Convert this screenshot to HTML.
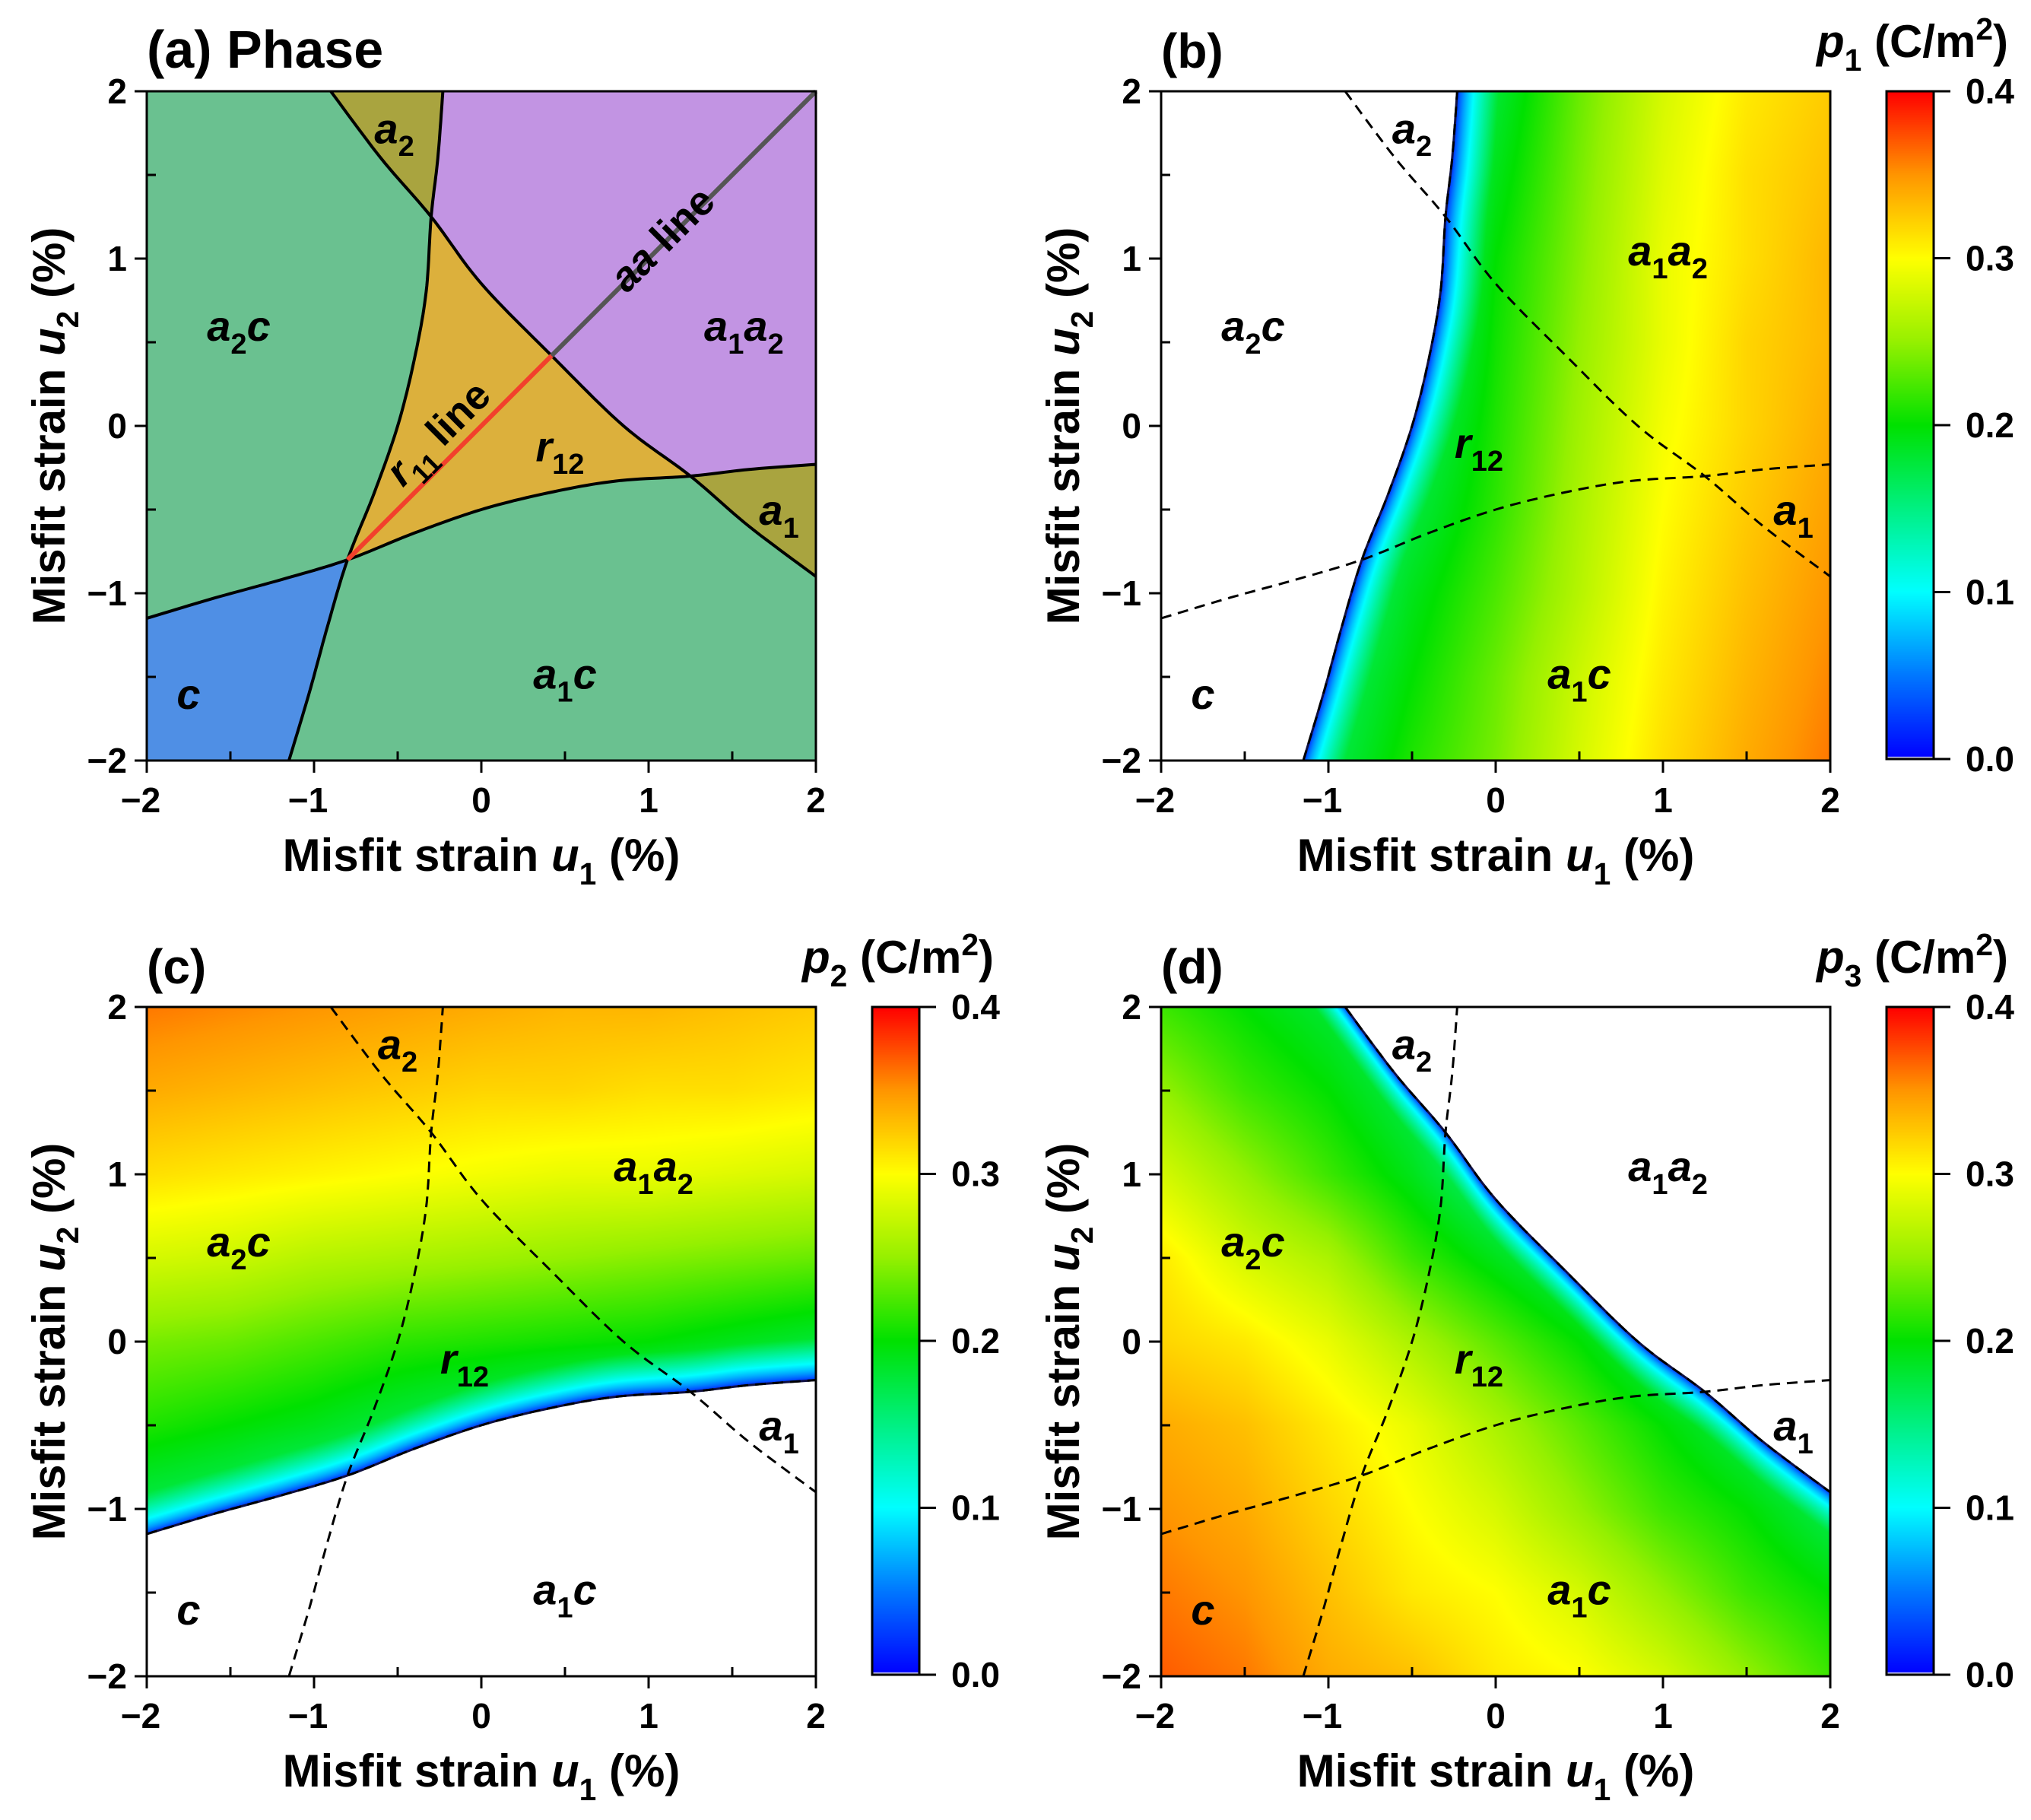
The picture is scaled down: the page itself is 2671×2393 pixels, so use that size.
<!DOCTYPE html>
<html><head><meta charset="utf-8">
<style>
html,body{margin:0;padding:0;background:#fff;}
#root{position:relative;width:2671px;height:2393px;overflow:hidden;background:#fff;}
canvas{position:absolute;}
svg{position:absolute;left:0;top:0;}
text{font-family:"Liberation Sans",Arial,sans-serif;font-weight:bold;fill:#000;}
</style></head>
<body>
<div id="root">
<canvas id="hb" width="880" height="880" style="left:1527px;top:120px;width:880px;height:880px"></canvas>
<canvas id="hc" width="880" height="880" style="left:193px;top:1324px;width:880px;height:880px"></canvas>
<canvas id="hd" width="880" height="880" style="left:1527px;top:1324px;width:880px;height:880px"></canvas>
<canvas id="cb" width="62" height="878" style="left:2481px;top:120px;width:62px;height:878px"></canvas>
<canvas id="cc" width="62" height="878" style="left:1147px;top:1324px;width:62px;height:878px"></canvas>
<canvas id="cd" width="62" height="878" style="left:2481px;top:1324px;width:62px;height:878px"></canvas>
<svg id="sv" width="2671" height="2393" xmlns="http://www.w3.org/2000/svg"></svg>
</div>
<script>
// ---- phase boundary data (u1, u2 in %) ----
const curve1 = [[-2,-1.15],[-1.6,-1.03],[-1.2,-0.92],[-0.8,-0.8],[-0.4,-0.64],[0,-0.5],[0.4,-0.4],[0.8,-0.33],[1.25,-0.3],[1.6,-0.26],[2,-0.23]];
const curve2 = [[-1.15,-2],[-1.03,-1.6],[-0.92,-1.2],[-0.8,-0.8],[-0.64,-0.4],[-0.5,0],[-0.4,0.4],[-0.33,0.8],[-0.3,1.25],[-0.26,1.6],[-0.23,2]];
const curve3 = [[-0.9,2],[-0.6,1.6],[-0.3,1.25],[0,0.85],[0.42,0.42],[0.85,0.0],[1.25,-0.3],[1.6,-0.6],[2,-0.9]];
const gridU1 = [-2,-1.5,-1,-0.5,0,0.5,1,1.5,2];
const gridU2 = [2,1.5,1,0.5,0,-0.5,-1,-1.5,-2];
const p1Values = [
[0.1,0.1,0.1,0.1,0.18,0.235,0.28,0.31,0.325],
[0.1,0.1,0.1,0.1,0.19,0.24,0.285,0.315,0.33],
[0.1,0.1,0.1,0.12,0.2,0.245,0.29,0.315,0.335],
[0.1,0.1,0.1,0.14,0.205,0.25,0.29,0.32,0.335],
[0.1,0.1,0.1,0.16,0.21,0.255,0.295,0.32,0.34],
[0.1,0.1,0.12,0.175,0.215,0.26,0.3,0.325,0.345],
[0.1,0.1,0.14,0.19,0.225,0.265,0.305,0.33,0.35],
[0.1,0.12,0.16,0.2,0.235,0.275,0.31,0.335,0.355],
[0.1,0.13,0.17,0.21,0.24,0.28,0.315,0.34,0.36]];
const p2Values = [
[0.36,0.355,0.35,0.345,0.34,0.335,0.335,0.33,0.325],
[0.34,0.335,0.33,0.325,0.32,0.32,0.315,0.315,0.31],
[0.315,0.31,0.305,0.3,0.295,0.29,0.29,0.285,0.28],
[0.28,0.275,0.265,0.26,0.255,0.25,0.245,0.24,0.235],
[0.24,0.235,0.225,0.215,0.21,0.205,0.2,0.19,0.18],
[0.21,0.2,0.19,0.175,0.16,0.14,0.12,0.1,0.1],
[0.17,0.16,0.14,0.12,0.1,0.1,0.1,0.1,0.1],
[0.13,0.12,0.1,0.1,0.1,0.1,0.1,0.1,0.1],
[0.1,0.1,0.1,0.1,0.1,0.1,0.1,0.1,0.1]];
const p3Values = [
[0.22,0.2,0.18,0.15,0.1,0.1,0.1,0.1,0.1],
[0.25,0.22,0.2,0.17,0.12,0.1,0.1,0.1,0.1],
[0.28,0.25,0.22,0.19,0.15,0.1,0.1,0.1,0.1],
[0.31,0.28,0.26,0.22,0.19,0.16,0.1,0.1,0.1],
[0.32,0.31,0.29,0.26,0.23,0.2,0.16,0.1,0.1],
[0.34,0.33,0.31,0.29,0.26,0.23,0.2,0.17,0.12],
[0.35,0.34,0.32,0.3,0.28,0.25,0.22,0.2,0.17],
[0.36,0.35,0.33,0.31,0.3,0.28,0.25,0.22,0.2],
[0.37,0.36,0.34,0.33,0.31,0.3,0.28,0.25,0.22]];
const axisTicks = [-2,-1,0,1,2];
const axisTickLabels = ["\u22122","\u22121","0","1","2"];
const cbTicks = [0,0.1,0.2,0.3,0.4];
const cbTickLabels = ["0.0","0.1","0.2","0.3","0.4"];

const NS = "http://www.w3.org/2000/svg";
const sv = document.getElementById('sv');
const S = 880;
const NSUB = 12;
const panels = {a:[193,120], b:[1527,120], c:[193,1324], d:[1527,1324]};
function sx(p,u){return panels[p][0] + (u+2)/4*S;}
function sy(p,v){return panels[p][1] + (2-v)/4*S;}
function el(tag, attrs, parent){
  const e = document.createElementNS(NS, tag);
  for (const k in attrs) e.setAttribute(k, attrs[k]);
  (parent||sv).appendChild(e);
  return e;
}
function densify(c){
  const out=[];
  for(let i=0;i<c.length-1;i++){
    const p0=c[Math.max(0,i-1)],p1=c[i],p2=c[i+1],p3=c[Math.min(c.length-1,i+2)];
    for(let s=0;s<NSUB;s++){
      const t=s/NSUB,t2=t*t,t3=t2*t;
      out.push([0,1].map(k=>0.5*((2*p1[k])+(-p0[k]+p2[k])*t+(2*p0[k]-5*p1[k]+4*p2[k]-p3[k])*t2+(-p0[k]+3*p1[k]-3*p2[k]+p3[k])*t3)));
    }
  }
  out.push(c[c.length-1].slice());
  return out;
}
const D1=densify(curve1), D2=densify(curve2), D3=densify(curve3);
function seg(c,i,j){ i*=NSUB; j*=NSUB; if(i<=j) return c.slice(i,j+1); return c.slice(j,i+1).reverse(); }
function pathD(p, pts, close){
  return pts.map((q,k)=>(k?'L':'M')+sx(p,q[0]).toFixed(1)+' '+sy(p,q[1]).toFixed(1)).join(' ')+(close?' Z':'');
}
const cmStops = [[0,[0,0,255]],[0.05,[0,120,255]],[0.1,[0,255,255]],[0.15,[0,240,130]],[0.2,[0,225,0]],[0.25,[150,240,0]],[0.3,[255,255,0]],[0.35,[255,150,0]],[0.4,[255,0,0]]];
function cmap(v){
  if(v<=0) return cmStops[0][1];
  if(v>=0.4) return cmStops[cmStops.length-1][1];
  for(let i=0;i<cmStops.length-1;i++){
    const a=cmStops[i],b=cmStops[i+1];
    if(v>=a[0]&&v<=b[0]){const t=(v-a[0])/(b[0]-a[0]);return [0,1,2].map(k=>a[1][k]+(b[1][k]-a[1][k])*t);}
  }
}
function interpX(c,y){
  const pts = c.slice().sort((a,b)=>a[1]-b[1]);
  for(let i=0;i<pts.length-1;i++){ if(y<=pts[i+1][1]){const t=(y-pts[i][1])/(pts[i+1][1]-pts[i][1]);return pts[i][0]+t*(pts[i+1][0]-pts[i][0]);} }
  return pts[pts.length-1][0];
}
function interpY(c,x){
  const pts = c.slice().sort((a,b)=>a[0]-b[0]);
  for(let i=0;i<pts.length-1;i++){ if(x<=pts[i+1][0]){const t=(x-pts[i][0])/(pts[i+1][0]-pts[i][0]);return pts[i][1]+t*(pts[i+1][1]-pts[i][1]);} }
  return pts[pts.length-1][1];
}
function bilin(g,u1,u2){
  let fj=(u1-gridU1[0])/0.5, fi=(gridU2[0]-u2)/0.5;
  fj=Math.max(0,Math.min(7.9999,fj)); fi=Math.max(0,Math.min(7.9999,fi));
  const j=Math.floor(fj), i=Math.floor(fi), tj=fj-j, ti=fi-i;
  return g[i][j]*(1-tj)*(1-ti)+g[i][j+1]*tj*(1-ti)+g[i+1][j]*(1-tj)*ti+g[i+1][j+1]*tj*ti;
}
function heat(id, grid, distFn, band){
  const cv=document.getElementById(id), ctx=cv.getContext('2d');
  const img=ctx.createImageData(S,S);
  for(let py=0;py<S;py++){
    const u2=2-(py+0.5)/S*4;
    for(let px=0;px<S;px++){
      const u1=-2+(px+0.5)/S*4;
      const d=distFn(u1,u2);
      let c=[255,255,255];
      if(d>0){ const f=Math.pow(Math.min(1,d/band),0.5); c=cmap(bilin(grid,u1,u2)*f); }
      const o=(py*S+px)*4; img.data[o]=c[0];img.data[o+1]=c[1];img.data[o+2]=c[2];img.data[o+3]=255;
    }
  }
  ctx.putImageData(img,0,0);
}
heat('hb', p1Values, (u1,u2)=>u1-interpX(D2,u2), 0.25);
heat('hc', p2Values, (u1,u2)=>u2-interpY(D1,u1), 0.25);
heat('hd', p3Values, (u1,u2)=>interpY(D3,u1)-u2, 0.25);
['cb','cc','cd'].forEach(id=>{
  const cv=document.getElementById(id), ctx=cv.getContext('2d');
  for(let y=0;y<878;y++){const c=cmap(0.4*(1-y/877));ctx.fillStyle='rgb('+c.map(Math.round).join(',')+')';ctx.fillRect(0,y,62,1);}
  ctx.fillStyle='#d8d8f0';ctx.fillRect(0,875,62,3);
});

const ga = el('g',{});


el('rect',{x:193,y:120,width:S,height:S,fill:'#6ac190'},ga);
const regs = [
 ['region-c','#4f8fe5',[[-2,-2]].concat(seg(D2,0,3),seg(D1,3,0))],
 ['region-r12','#dcb03c',seg(D1,3,8).concat(seg(D3,6,2),seg(D2,8,3))],
 ['region-a1a2','#c294e3',seg(D2,10,8).concat(seg(D3,2,6),seg(D1,8,10),[[2,2]])],
 ['region-a1','#a9a43f',seg(D1,8,10).concat(seg(D3,8,6))],
 ['region-a2','#a9a43f',seg(D3,0,2).concat(seg(D2,8,10))]
];
regs.forEach(r=>{
  const e=el('path',{d:pathD('a',r[2],true),fill:r[1]},ga);
  
  
});
[D1,D2,D3].forEach((c,k)=>{
  const e=el('path',{d:pathD('a',c,false),fill:'none',stroke:'#000','stroke-width':4},ga);
  
  
});
let e0=el('line',{x1:sx('a',0.42),y1:sy('a',0.42),x2:sx('a',2),y2:sy('a',2),stroke:'#555','stroke-width':6});


e0=el('line',{x1:sx('a',-0.8),y1:sy('a',-0.8),x2:sx('a',0.42),y2:sy('a',0.42),stroke:'#f2402c','stroke-width':6});



['b','c','d'].forEach(p=>{
  const solid = p==='b'?D2:(p==='c'?D1:D3);
  let s=el('path',{d:pathD(p,solid,false),fill:'none',stroke:'#101040','stroke-width':3});
  
  
  [D1,D2,D3].forEach((c,k)=>{
    const e=el('path',{d:pathD(p,c,false),fill:'none',stroke:'#000','stroke-width':3,'stroke-dasharray':'14 9'});
    
    
  });
});

function rich(x,y,parts,size,opts){
  opts=opts||{};
  const t=el('text',{x:x,y:y,'font-size':size,'text-anchor':opts.anchor||'middle'});
  if(opts.fill) t.setAttribute('fill',opts.fill);
  if(opts.rot) t.setAttribute('transform','rotate('+opts.rot+' '+x+' '+y+')');
  if(opts.italic) t.setAttribute('font-style','italic');
  let shift=0;
  parts.forEach(pt=>{
    const ts=document.createElementNS(NS,'tspan');
    let want=0;
    if(pt[1]==='sub'){want=size*0.3;ts.setAttribute('font-size',size*0.68);ts.setAttribute('font-style','normal');}
    else if(pt[1]==='sup'){want=-size*0.38;ts.setAttribute('font-size',size*0.68);}
    if(pt[1]==='i') ts.setAttribute('font-style','italic');
    if(want!==shift){ts.setAttribute('dy',want-shift);shift=want;}
    ts.textContent=pt[0];
    t.appendChild(ts);
  });
  return t;
}

Object.keys(panels).forEach(p=>{
  const x0=panels[p][0], y0=panels[p][1];
  const g=el('g',{});
  
  
  el('rect',{x:x0,y:y0,width:S,height:S,fill:'none',stroke:'#000','stroke-width':3},g);
  axisTicks.forEach((v,k)=>{
    el('line',{x1:sx(p,v),y1:y0+S,x2:sx(p,v),y2:y0+S+16,stroke:'#000','stroke-width':3},g);
    el('line',{x1:x0-16,y1:sy(p,v),x2:x0,y2:sy(p,v),stroke:'#000','stroke-width':3},g);
    const tx=rich(sx(p,v)-(v<0?8:0),y0+S+68,[[axisTickLabels[k],'']],46);
    
    
    const ty=rich(x0-26,sy(p,v)+16,[[axisTickLabels[k],'']],46,{anchor:'end'});
    
    
  });
  [-1.5,-0.5,0.5,1.5].forEach(v=>{
    el('line',{x1:sx(p,v),y1:y0+S,x2:sx(p,v),y2:y0+S-12,stroke:'#000','stroke-width':3},g);
    el('line',{x1:x0,y1:sy(p,v),x2:x0+12,y2:sy(p,v),stroke:'#000','stroke-width':3},g);
  });
  const xt=rich(x0+S/2,y0+S+145,[['Misfit strain ',''],['u','i'],['1','sub'],[' (%)','']],60);
  
  
  const yt=rich(x0-108,y0+S/2,[['Misfit strain ',''],['u','i'],['2','sub'],[' (%)','']],60,{rot:-90});
  
  
});
const cbs={b:[2481,120,'1'],c:[1147,1324,'2'],d:[2481,1324,'3']};
Object.keys(cbs).forEach(p=>{
  const x=cbs[p][0], y=cbs[p][1];
  el('rect',{x:x,y:y,width:62,height:878,fill:'none',stroke:'#000','stroke-width':3});
  cbTicks.forEach((v,k)=>{
    const yy=y+878-v/0.4*878;
    el('line',{x1:x+62,y1:yy,x2:x+84,y2:yy,stroke:'#000','stroke-width':3});
    const t=rich(x+104,yy+16,[[cbTickLabels[k],'']],46,{anchor:'start'});
    
    
  });
  const t=rich(x+160,y-45,[['p','i'],[cbs[p][2],'sub'],[' (C/m',''],['2','sup'],[')','']],60,{anchor:'end'});
  
  
});
let pt=rich(193,89,[['(a) Phase','']],70,{anchor:'start'});


[['b',1527,89],['c',193,1293],['d',1527,1293]].forEach(q=>{
  const t=rich(q[1],q[2],[['('+q[0]+')','']],64,{anchor:'start'});
  
  
});
const R=56;
function regionLabels(p, pos){
  pos.forEach(q=>{
    const t=rich(sx(p,q[0]),sy(p,q[1])+20,q[2],R,{italic:true,fill:q[3]||'#000'});
    
    
  });
}
const A2=[['a','i'],['2','sub']], A1=[['a','i'],['1','sub']];
const A2C=[['a','i'],['2','sub'],['c','i']], A1C=[['a','i'],['1','sub'],['c','i']];
const A1A2=[['a','i'],['1','sub'],['a','i'],['2','sub']], R12=[['r','i'],['12','sub']], C=[['c','i']];
regionLabels('a',[[-0.52,1.78,A2],[-1.45,0.6,A2C],[1.57,0.6,A1A2],[0.47,-0.12,R12],[1.78,-0.5,A1],[0.5,-1.48,A1C],[-1.75,-1.6,C]]);
['b','c','d'].forEach(p=>{
  regionLabels(p,[[-0.5,1.78,A2],[-1.45,0.6,A2C],[1.03,1.05,A1A2],[-0.1,-0.1,R12],[1.78,-0.5,A1],[0.5,-1.48,A1C],[-1.75,-1.6,C]]);
});
let ln=rich(sx('a',1.14),sy('a',1.14)+18,[['aa','i'],[' line','']],54,{rot:-45,fill:'#fff'});


ln=rich(sx('a',-0.2),sy('a',-0.02)+18,[['r','i'],['11','sub'],[' line','']],54,{rot:-45,fill:'#fff'});


</script>
</body></html>
